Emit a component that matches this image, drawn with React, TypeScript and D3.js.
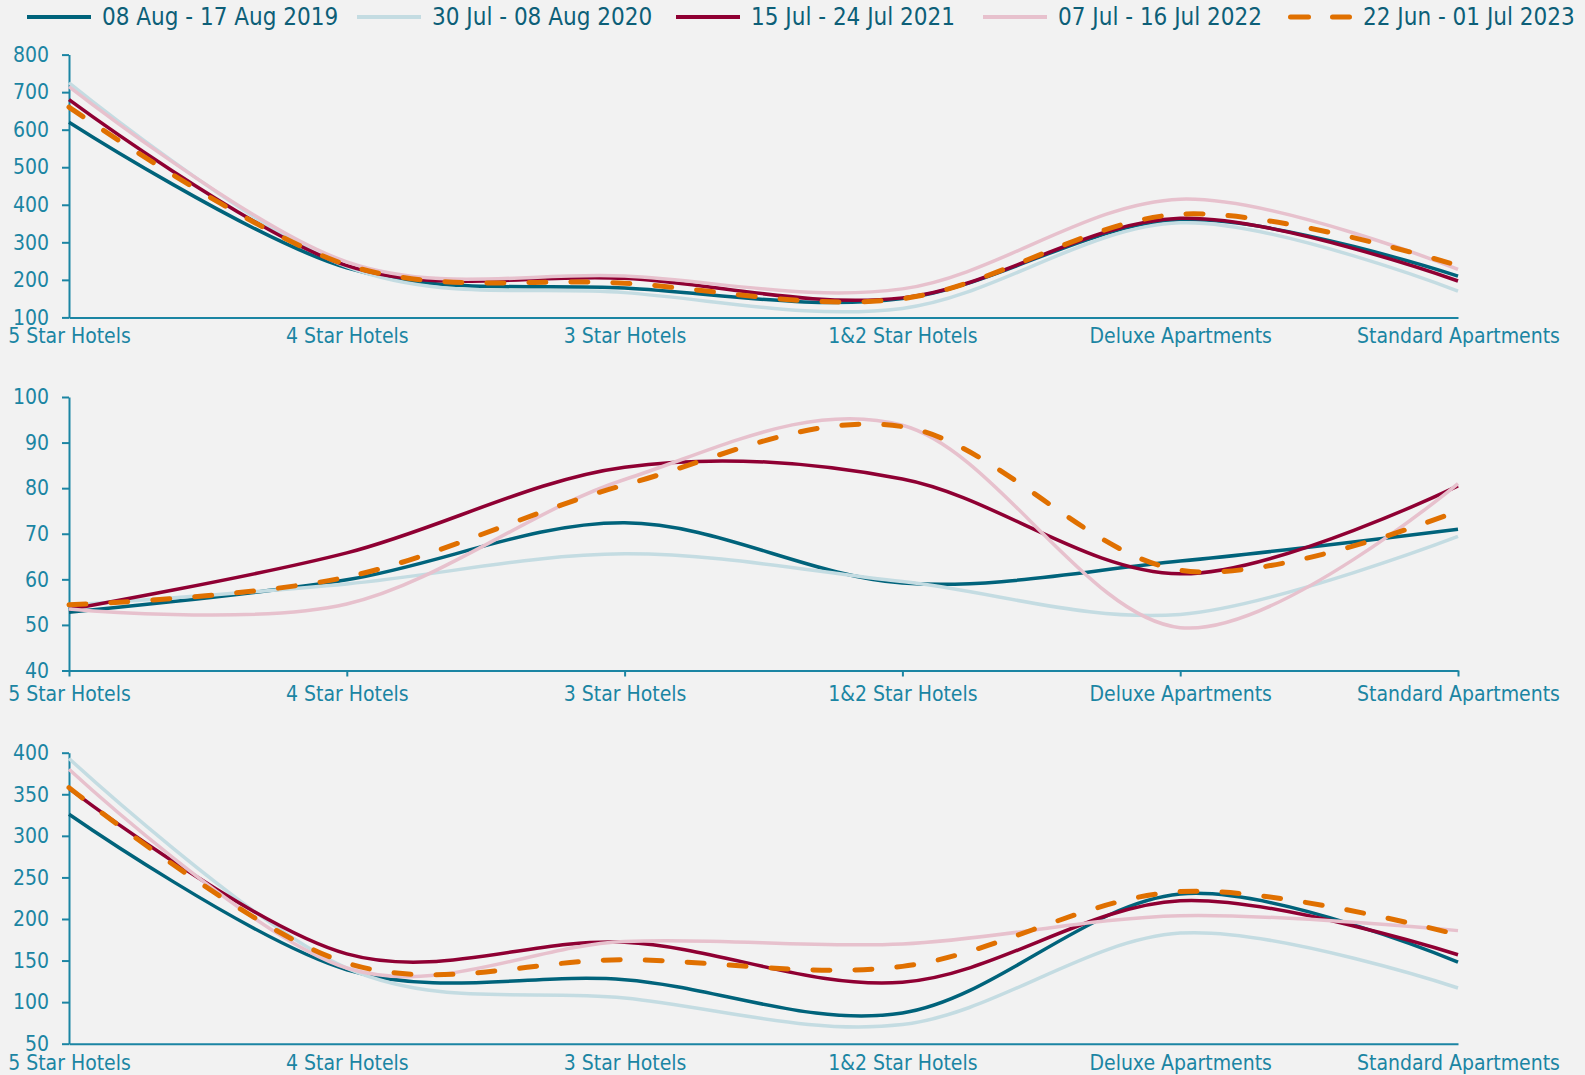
import { useEffect, useRef } from "react";
import * as d3 from "d3";

const W = 1585;
const H = 1075;

const categories = [
  "5 Star Hotels",
  "4 Star Hotels",
  "3 Star Hotels",
  "1&2 Star Hotels",
  "Deluxe Apartments",
  "Standard Apartments",
];
const periods = [
  "08 Aug - 17 Aug 2019",
  "30 Jul - 08 Aug 2020",
  "15 Jul - 24 Jul 2021",
  "07 Jul - 16 Jul 2022",
  "22 Jun - 01 Jul 2023",
];
const colors = ["#00637b", "#c4dce2", "#8f0033", "#e7c1cd", "#e07000"];

// top panel (rate)
const rate2019 = [620, 232, 178, 150, 360, 210];
const rate2020 = [725, 235, 166, 124, 352, 170];
const rate2021 = [680, 238, 204, 152, 364, 197];
const rate2022 = [715, 248, 210, 176, 415, 228];
const rate2023 = [660, 240, 191, 150, 375, 238];

// middle panel (occupancy)
const occ2019 = [52.8, 59.9, 72.4, 59.2, 64, 71];
const occ2020 = [54.3, 59, 65.6, 59.5, 52.3, 69.4];
const occ2021 = [53.4, 65.8, 84.6, 82, 61.2, 80.5];
const occ2022 = [53.5, 54.6, 81.9, 93.8, 49.4, 81];
const occ2023 = [54.4, 60.5, 80.7, 93.5, 62, 75];

// bottom panel (revpar)
const rev2019 = [326, 139, 127, 87, 230, 148];
const rev2020 = [393, 141, 105, 73, 183, 117];
const rev2021 = [357, 158, 172, 124, 222, 157];
const rev2022 = [380, 141, 173, 170, 204, 186];
const rev2023 = [358, 147, 151, 143, 233, 181];

const panels = [
  { series: [rate2019, rate2020, rate2021, rate2022, rate2023], domain: [100, 800], step: 100, range: [317.4, 54.6], xTicks: false },
  { series: [occ2019, occ2020, occ2021, occ2022, occ2023], domain: [40, 100], step: 10, range: [670.5, 397], xTicks: true },
  { series: [rev2019, rev2020, rev2021, rev2022, rev2023], domain: [50, 400], step: 50, range: [1043.7, 752.7], xTicks: false },
];

// legend sample starts, as laid out in the original
const legendX = [27, 357, 676, 983, 1288];

const FONT = "'DejaVu Sans Condensed', 'Liberation Sans', sans-serif";
const AXIS = "#1b85a3";
const LEGEND_TEXT = "#0d5f78";

export default function App() {
  const ref = useRef<SVGSVGElement>(null);

  useEffect(() => {
    const svg = d3.select(ref.current);
    svg.selectAll("*").remove();

    svg.append("rect").attr("width", W).attr("height", H).attr("fill", "#f2f2f2");

    const x = d3.scalePoint<string>().domain(categories).range([69, 1458]);

    panels.forEach((p) => {
      const y = d3.scaleLinear().domain(p.domain).range(p.range);
      const g = svg.append("g");

      const yAxis = d3.axisLeft(y)
        .tickValues(d3.range(p.domain[0], p.domain[1] + 1, p.step))
        .tickSize(7)
        .tickSizeOuter(0)
        .tickPadding(13);
      const xAxis = d3.axisBottom(x)
        .tickSize(p.xTicks ? 6 : 0)
        .tickSizeOuter(0)
        .tickPadding(p.xTicks ? 10 : 11);

      const gx = g.append("g").attr("transform", `translate(0,${p.range[0]})`).call(xAxis);
      const gy = g.append("g").attr("transform", "translate(69,0)").call(yAxis);

      [gx, gy].forEach((a) => {
        a.selectAll(".domain, line").attr("stroke", AXIS).attr("stroke-width", 2);
        a.selectAll("text")
          .attr("fill", AXIS)
          .style("font-family", FONT)
          .style("font-size", "21px");
      });

      const line = d3.line<number>()
        .x((_, i) => x(categories[i]) as number)
        .y((d) => y(d))
        .curve(d3.curveCardinal.tension(0));

      p.series.forEach((vals, i) => {
        g.append("path")
          .attr("d", line(vals))
          .attr("fill", "none")
          .attr("stroke", colors[i])
          .attr("stroke-width", i === 4 ? 5 : 3.5)
          .attr("stroke-dasharray", i === 4 ? "17,25" : null)
          .attr("stroke-linecap", i === 4 ? "round" : "butt");
      });
    });

    // legend
    const legend = svg.append("g").attr("transform", "translate(0,17)");
    periods.forEach((name, i) => {
      const cx = legendX[i];
      legend.append("line")
        .attr("x1", cx + (i === 4 ? 2.5 : 0))
        .attr("x2", cx + 64 - (i === 4 ? 2.5 : 0))
        .attr("stroke", colors[i])
        .attr("stroke-width", i === 4 ? 5 : 4)
        .attr("stroke-dasharray", i === 4 ? "18,24" : null)
        .attr("stroke-linecap", i === 4 ? "round" : "butt");
      legend.append("text")
        .attr("x", cx + 75)
        .attr("dy", "0.35em")
        .attr("fill", LEGEND_TEXT)
        .style("font-family", FONT)
        .style("font-size", "24px")
        .text(name);
    });
  }, []);

  return (
    <svg
      ref={ref}
      width={W}
      height={H}
      style={{ position: "absolute", left: 0, top: 0, display: "block" }}
    />
  );
}
